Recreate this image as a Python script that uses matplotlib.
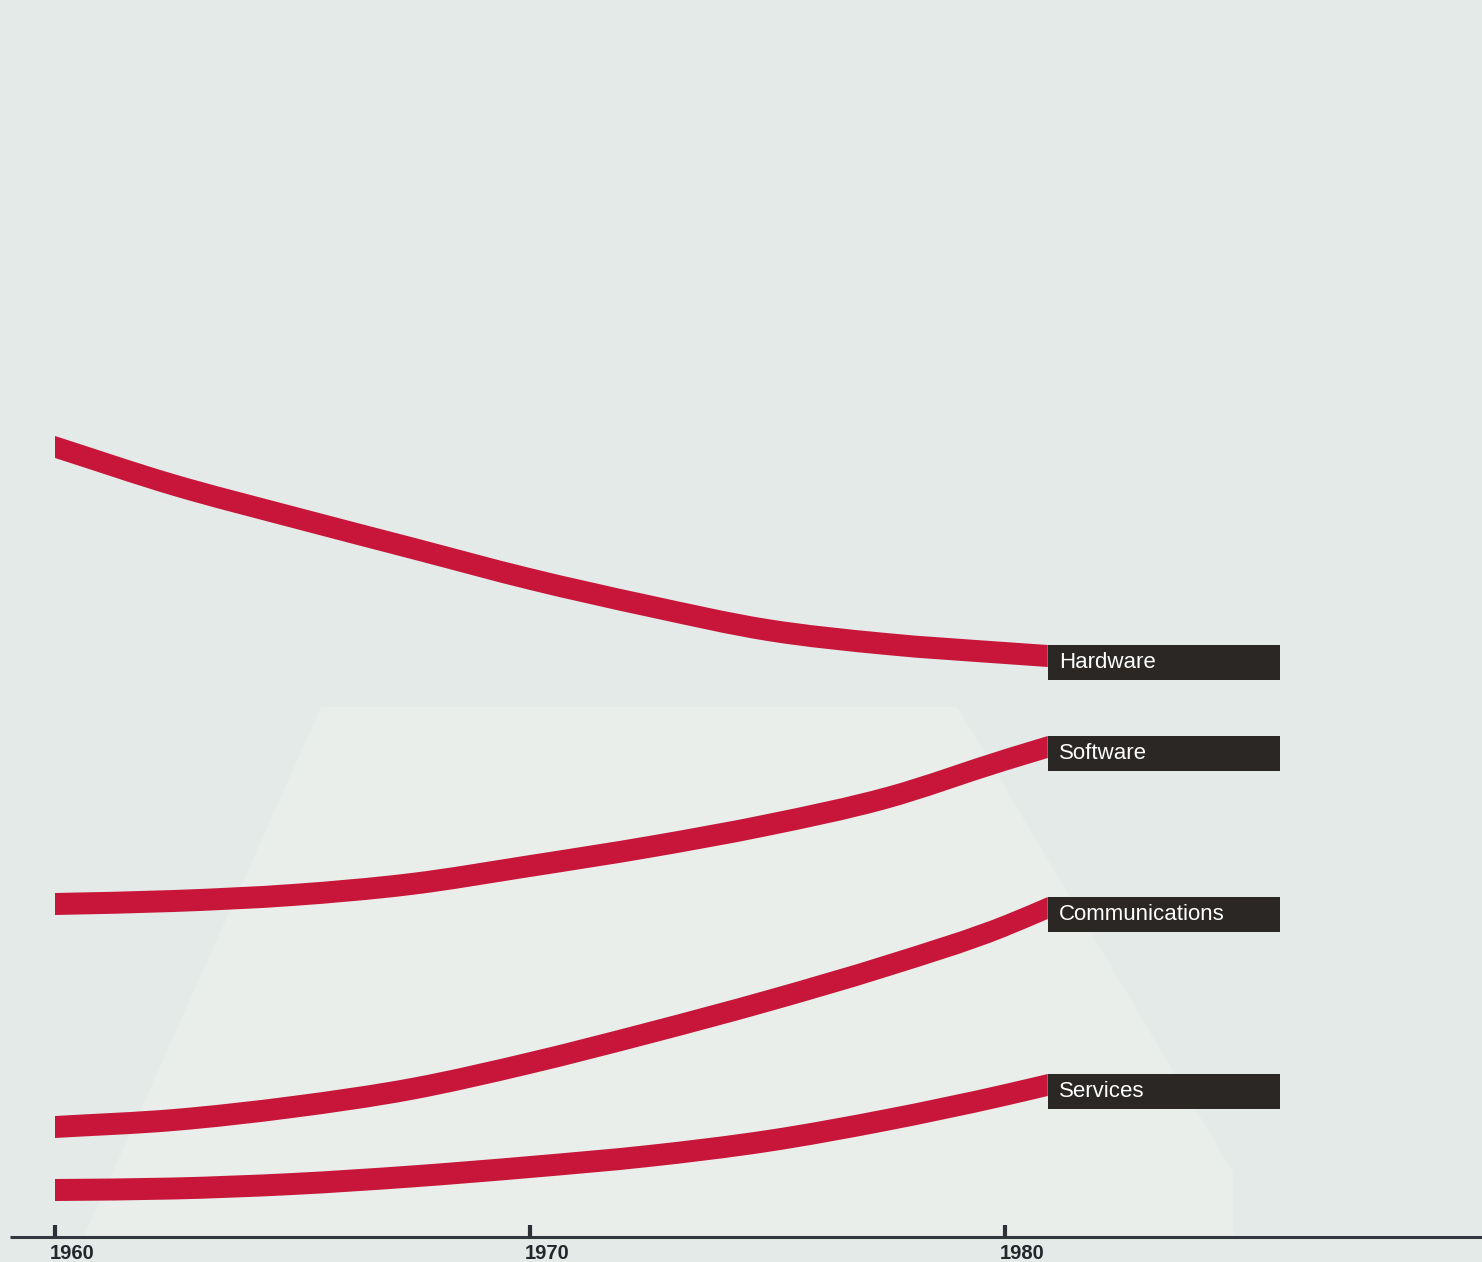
import numpy as np
import matplotlib
matplotlib.use("Agg")
import matplotlib.pyplot as plt
from matplotlib.patches import Rectangle, Polygon, PathPatch
from matplotlib.path import Path

# years (curves stop at the label boxes, just past 1980)
years = [1960, 1962.5, 1965, 1967.5, 1970, 1972.5, 1975, 1977.5, 1980, 1980.9]

# relative share (arbitrary units, 0 = axis)
hardware = [78.5, 74.7, 71.5, 68.4, 65.3, 62.6, 60.2, 58.8, 57.9, 57.6]
software = [32.8, 33.1, 33.7, 34.8, 36.6, 38.5, 40.7, 43.4, 47.2, 48.5]
communications = [10.5, 11.2, 12.5, 14.3, 16.9, 19.9, 23.1, 26.6, 30.6, 32.4]
services = [4.2, 4.35, 4.8, 5.55, 6.5, 7.6, 9.1, 11.2, 13.7, 14.7]

labels = ["Hardware", "Software", "Communications", "Services"]
series = [hardware, software, communications, services]
tick_years = [1960, 1970, 1980]

bg = "#e4eae8"
red = "#c8163a"
box_col = "#2a2725"


def smooth_edge(xs, ys):
    # cubic bezier segments through the read points (hermite style tangents)
    xs = np.asarray(xs, float)
    ys = np.asarray(ys, float)
    sec = np.diff(ys) / np.diff(xs)
    m = np.empty_like(ys)
    m[0], m[-1] = sec[0], sec[-1]
    h = np.diff(xs)
    m[1:-1] = (sec[:-1] * h[1:] + sec[1:] * h[:-1]) / (h[:-1] + h[1:])
    verts = [(xs[0], ys[0])]
    for i in range(len(xs) - 1):
        d = h[i] / 3
        verts += [(xs[i] + d, ys[i] + m[i] * d),
                  (xs[i + 1] - d, ys[i + 1] - m[i + 1] * d),
                  (xs[i + 1], ys[i + 1])]
    return verts


def band_path(xs, ys, half):
    ys = np.asarray(ys, float)
    top = smooth_edge(xs, ys + half)
    bot = smooth_edge(xs[::-1], (ys - half)[::-1])
    verts = top + bot + [top[0]]
    n = len(xs) - 1
    codes = [Path.MOVETO] + [Path.CURVE4] * (3 * n) + [Path.LINETO] + [Path.CURVE4] * (3 * n) + [Path.CLOSEPOLY]
    return Path(verts, codes)


fig = plt.figure(figsize=(14.82, 12.62), dpi=100)
fig.patch.set_facecolor(bg)
ax = fig.add_axes([0, 0, 1, 1])
ax.set_facecolor(bg)
ax.set_xlim(1958.842, 1990.042)
ax.set_ylim(-3.0, 123.2)
ax.axis("off")

# faint lighter area of the printed page behind the chart
ax.add_patch(Polygon([(1960.6, -0.5), (1965.6, 52.5), (1979.0, 52.5), (1984.8, 6.0), (1984.8, -0.5)],
                     closed=True, facecolor="#e9eeeb", edgecolor="none", zorder=0))

half = 1.1  # half thickness of the bands
for name, vals in zip(labels, series):
    ax.add_patch(PathPatch(band_path(years, vals, half), facecolor=red, edgecolor="none", zorder=2))
    top = vals[-1] + half
    ax.add_patch(Rectangle((years[-1], top - 3.45), 1985.79 - years[-1], 3.45,
                           facecolor=box_col, edgecolor="none", zorder=3))
    ax.text(years[-1] + 0.24, top - 1.75, name, color="white", fontsize=16,
            family="Liberation Sans", va="center", ha="left", zorder=4)

# axis line with ticks
ax.plot([1959.05, 1990.1], [-0.5, -0.5], color="#33383f", lw=2.2, solid_capstyle="butt", zorder=2)
for yr in tick_years:
    ax.plot([yr, yr], [-0.5, 0.7], color="#2d3036", lw=3, solid_capstyle="butt", zorder=2)
    ax.text(yr - 0.12, -1.2, str(yr), fontsize=14.5, fontweight="bold", family="Liberation Sans",
            color="#23262a", ha="left", va="top")

fig.savefig("out.png", dpi=100, facecolor=bg)
